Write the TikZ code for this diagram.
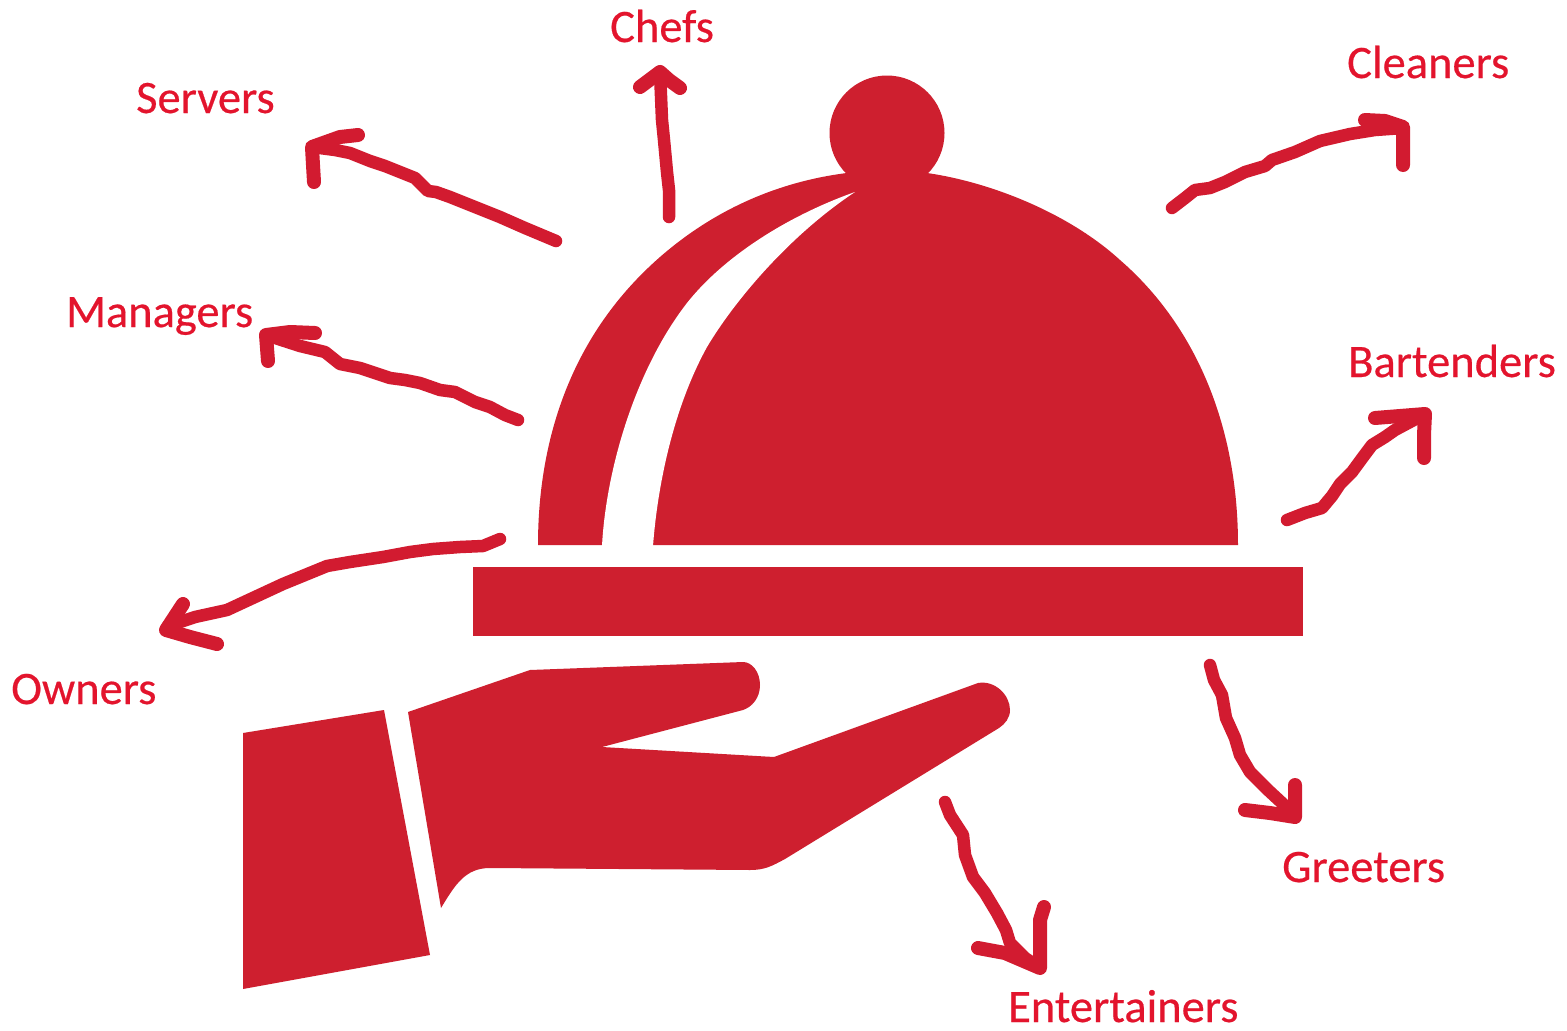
\documentclass[tikz,border=0pt]{standalone}
\usepackage{fontspec}
\newfontfamily\lblfont[FakeBold=0.4]{Carlito}
\definecolor{iconred}{HTML}{CE1F2F}
\definecolor{textred}{HTML}{E3142D}
\definecolor{penred}{HTML}{D21B30}
\tikzset{
  icon/.style={fill=iconred,draw=none},
  gap/.style={fill=white,draw=none},
  scrawl/.style={draw=penred,line width=12.5pt,line cap=round,line join=round},
  scrawlhead/.style={scrawl,line width=14pt},
  lbl/.style={text=textred,anchor=base west,inner sep=0pt,font=\lblfont\fontsize{46.5}{50}\selectfont}
}
\begin{document}
\begin{tikzpicture}[x=1pt,y=-1pt]
\useasboundingbox (0,0) rectangle (1567,1031);
\fill[white] (0,0) rectangle (1567,1031);
% cloche
\fill[icon] (887,133) circle (57.5);
\fill[icon] (538,545) .. controls (538,450) and (565,340) .. (660,257)
  .. controls (715,209) and (790,172) .. (888,170)
  .. controls (960,170) and (1060,205) .. (1120,260)
  .. controls (1195,325) and (1238,425) .. (1238,545) -- cycle;
\fill[gap] (602,546) .. controls (606,470) and (635,370) .. (687,303)
  .. controls (725,255) and (790,215) .. (855,192)
  .. controls (790,235) and (735,300) .. (707,347)
  .. controls (675,405) and (658,480) .. (653,546) -- cycle;
\fill[icon] (473,567) rectangle (1303,636);
% cuff and hand
\fill[icon] (243,733) -- (384,710) -- (430,955) -- (243,989) -- cycle;
\fill[icon] (408,712) -- (530,670) -- (743,662)
  .. controls (752,662) and (760,672) .. (760,685)
  .. controls (760,698) and (752,707) .. (743,710)
  -- (602,747) -- (774,757) -- (978,683)
  .. controls (995,680) and (1010,695) .. (1010,710)
  .. controls (1010,718) and (1005,724) .. (999,728)
  -- (785,859) .. controls (772,866) and (765,870) .. (750,870)
  -- (490,868) .. controls (465,868) and (455,885) .. (441,908) -- cycle;
% freehand arrows
\draw[scrawl] (556,241) -- (525,228) -- (500,217) -- (470,205) -- (450,197) -- (436,192) -- (428,191) -- (415,178) -- (400,172) -- (385,166) -- (370,161) -- (350,153) -- (335,150) -- (312,147);
\draw[scrawlhead] (358,135) -- (340,137) -- (312,147) -- (313,165) -- (314,182);
\draw[scrawl] (518,420) -- (505,415) -- (490,407) -- (475,402) -- (455,392) -- (440,390) -- (420,383) -- (405,380) -- (390,378) -- (360,368) -- (340,364) -- (325,352) -- (300,346) -- (266,335);
\draw[scrawlhead] (315,333) -- (290,332) -- (266,335) -- (268,361);
\draw[scrawl] (669,217) -- (669,190) -- (667,172) -- (664,140) -- (662,120) -- (660,72);
\draw[scrawlhead] (640,87) -- (660,72) -- (669,80) -- (680,88);
\draw[scrawl] (1172,208) -- (1185,198) -- (1195,190) -- (1210,188) -- (1225,182) -- (1245,172) -- (1265,166) -- (1272,160) -- (1295,152) -- (1320,141) -- (1350,134) -- (1375,130) -- (1403,128);
\draw[scrawlhead] (1365,120) -- (1385,121) -- (1403,127) -- (1403,145) -- (1403,165);
\draw[scrawl] (1287,520) -- (1305,513) -- (1322,508) -- (1332,496) -- (1340,484) -- (1352,472) -- (1363,457) -- (1372,445) -- (1385,437) -- (1395,430) -- (1425,414);
\draw[scrawlhead] (1375,418) -- (1400,416) -- (1425,414) -- (1424,435) -- (1424,458);
\draw[scrawl] (1210,665) -- (1214,680) -- (1222,695) -- (1226,718) -- (1235,738) -- (1240,755) -- (1250,772) -- (1268,790) -- (1295,815);
\draw[scrawlhead] (1245,810) -- (1270,813) -- (1295,817) -- (1295,785);
\draw[scrawl] (945,802) -- (950,815) -- (963,835) -- (965,855) -- (973,877) -- (985,893) -- (997,913) -- (1006,930) -- (1010,943) -- (1025,958) -- (1040,968);
\draw[scrawlhead] (978,948) -- (1005,953) -- (1040,968) -- (1040,920) -- (1044,907);
\draw[scrawl] (500,539) -- (483,546) -- (460,547) -- (433,549) -- (410,552) -- (383,557) -- (350,562) -- (327,566) -- (305,575) -- (283,584) -- (255,597) -- (227,610) -- (195,617) -- (168,626);
\draw[scrawlhead] (183,604) -- (166,630) -- (190,637) -- (217,644);
% labels
\node[lbl] (chefs) at (610,42) {Chefs};
\node[lbl] (servers) at (136,113) {Servers};
\node[lbl] (managers) at (66,327) {Managers};
\node[lbl] (owners) at (11,704) {Owners};
\node[lbl] (cleaners) at (1347,78) {Cleaners};
\node[lbl] (bartenders) at (1348,377) {Bartenders};
\node[lbl] (greeters) at (1282,882) {Greeters};
\node[lbl] (entertainers) at (1008,1022) {Entertainers};
\end{tikzpicture}
\end{document}
